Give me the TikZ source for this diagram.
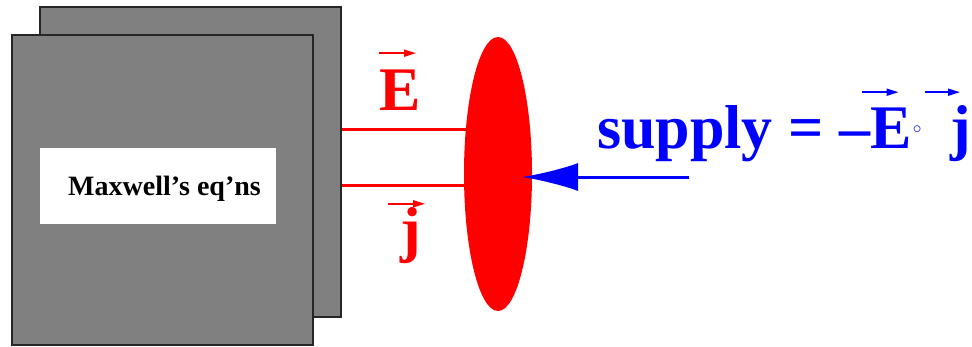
\documentclass[tikz,border=0pt]{standalone}
\usepackage{fontspec}
\setmainfont{Liberation Serif}
\usetikzlibrary{arrows.meta,shapes.geometric}
\definecolor{slab}{RGB}{128,128,128}
\definecolor{field}{RGB}{255,0,0}
\definecolor{flux}{RGB}{0,0,255}
\tikzset{
  panel/.style={draw=black!85,fill=slab,line width=1.5pt,minimum width=301pt,minimum height=310pt,inner sep=0pt},
  fieldtxt/.style={text=field,inner sep=0pt,font=\fontsize{62}{70}\selectfont\bfseries},
  fluxtxt/.style={text=flux,inner sep=0pt,font=\fontsize{62}{70}\selectfont\bfseries},
  vecarr/.style={-{Triangle[length=12pt,width=7pt]},line width=1.8pt},
  fieldline/.style={draw=field,line width=3pt},
}

\begin{document}
\begin{tikzpicture}[x=1pt,y=-1pt]
  \useasboundingbox (0,0) rectangle (972,346);
  % two stacked slabs
  \node[panel] (back) at (190.5,162) {};
  \node[panel] (front) at (162.5,190) {};
  \node[fill=white,minimum width=236pt,minimum height=76pt,inner sep=0pt] (box) at (158,186) {};
  \node[anchor=base west,inner sep=0pt,font=\fontsize{28}{32}\selectfont\bfseries]
     (maxw) at (68,195) {Maxwell’s eq’ns};
  % surface and the two field lines
  \node[ellipse,fill=field,minimum width=68pt,minimum height=274pt,inner sep=0pt] (surf) at (498,174) {};
  \coordinate (elev) at (0,129);
  \coordinate (jlev) at (0,185);
  \draw[fieldline] (back.east |- elev) -- (surf.center |- elev);
  \draw[fieldline] (back.east |- jlev) -- (surf.center |- jlev);
  \node[fieldtxt,anchor=base west] (Evec) at (379,110) {E};
  \draw[vecarr,field] ([yshift=16pt]Evec.north west) -- ++(37,0);
  \node[fieldtxt,anchor=base west] (jvec) at (400,250) {j};
  \draw[vecarr,field] ([xshift=-12pt,yshift=3pt]jvec.north west) -- ++(37,0);
  % supply
  \coordinate (src) at (689,177);
  \draw[flux,line width=3pt,-{Latex[length=56pt,width=28pt]}] (src) -- ([xshift=24pt]src -| surf.center);
  \node[fluxtxt,anchor=base west] (supply) at (597,148) {supply = –};
  \node[fluxtxt,anchor=base west] (bE) at (supply.base east) {E};
  \node[text=flux,anchor=base west,inner sep=0pt,font=\fontsize{17}{17}\selectfont]
     (ring) at ([xshift=0.5pt]bE.base east) {\raisebox{14.5pt}{$\circ$}};
  \node[fluxtxt,anchor=base west] (bj) at (950,148) {j};
  \coordinate (Eup) at ([xshift=-9pt,yshift=15pt]bE.north west);
  \draw[vecarr,flux] (Eup) -- ++(37,0);
  \draw[vecarr,flux] ([xshift=-25pt]bj.west |- Eup) -- ++(35,0);
\end{tikzpicture}
\end{document}
